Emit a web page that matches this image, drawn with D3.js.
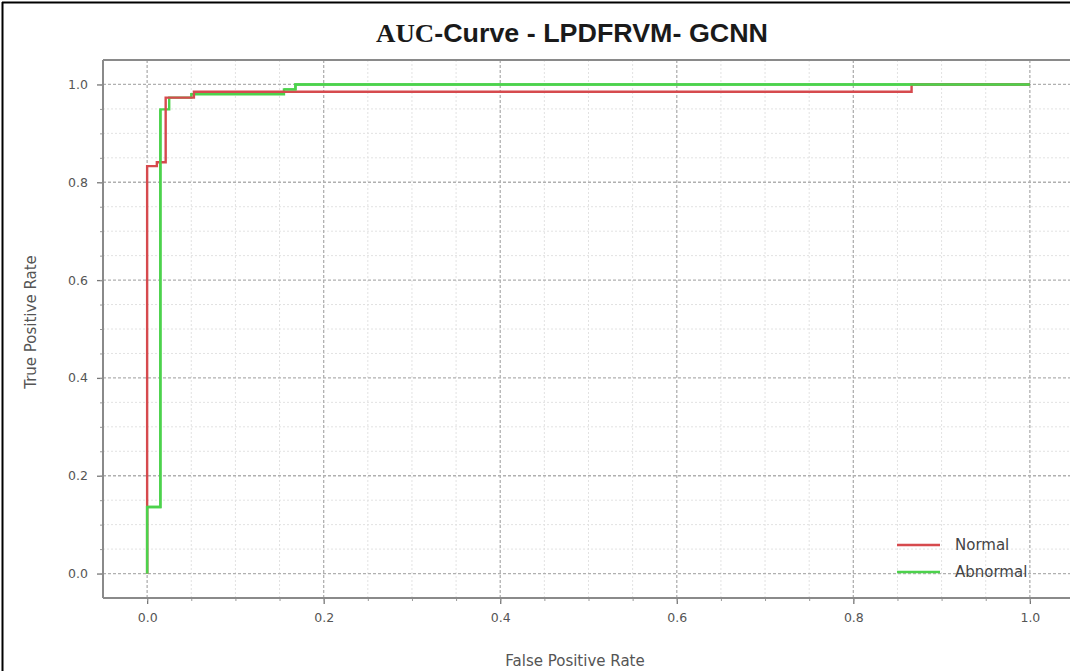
<!DOCTYPE html>
<html><head><meta charset="utf-8">
<script src="https://cdn.jsdelivr.net/npm/d3@7"></script>
<style>body{margin:0;background:#fff}svg{display:block}</style>
</head><body>
<svg id="c" width="1070" height="671"></svg>
<script>
const title = "AUC-Curve - LPDFRVM- GCNN";
const xLabel = "False Positive Rate";
const yLabel = "True Positive Rate";
const seriesNames = ["Normal", "Abnormal"];
const seriesColors = ["#d64a4e", "#4cd24c"];
const normalFPR = [0, 0, 0.011, 0.011, 0.021, 0.021, 0.053, 0.053, 0.866, 0.866, 1.0];
const normalTPR = [0, 0.833, 0.833, 0.841, 0.841, 0.973, 0.973, 0.985, 0.985, 1.0, 1.0];
const abnormalFPR = [0, 0, 0.015, 0.015, 0.025, 0.025, 0.05, 0.05, 0.155, 0.155, 0.168, 0.168, 1.0];
const abnormalTPR = [0, 0.136, 0.136, 0.949, 0.949, 0.973, 0.973, 0.98, 0.98, 0.99, 0.99, 1.0, 1.0];
const majorTicks = [0, 0.2, 0.4, 0.6, 0.8, 1.0];
const tickLabels = ["0.0", "0.2", "0.4", "0.6", "0.8", "1.0"];
const minorTicks = d3.range(-0.05, 1.0501, 0.05).map(v => +v.toFixed(2));

const svg = d3.select("#c");
const L = 103, T = 60, R = 1074, B = 598;
const x = d3.scaleLinear().domain([-0.05, 1.05]).range([L, R]);
const y = d3.scaleLinear().domain([-0.05, 1.05]).range([B, T]);

// outer frame (left and top)
svg.append("line").attr("x1",2.5).attr("x2",2.5).attr("y1",2).attr("y2",671).attr("stroke","#000").attr("stroke-width",2);
svg.append("line").attr("x1",2).attr("x2",1070).attr("y1",2.5).attr("y2",2.5).attr("stroke","#000").attr("stroke-width",2);

const g = svg.append("g");
// minor grid
minorTicks.filter(v => v > -0.05 && v < 1.05 && !majorTicks.some(m => Math.abs(m - v) < 1e-6)).forEach(v => {
  g.append("line").attr("x1", x(v)).attr("x2", x(v)).attr("y1", T).attr("y2", B)
    .attr("stroke", "#e2e2e2").attr("stroke-width", 1).attr("stroke-dasharray", "2,2");
  g.append("line").attr("y1", y(v)).attr("y2", y(v)).attr("x1", L).attr("x2", R)
    .attr("stroke", "#e2e2e2").attr("stroke-width", 1).attr("stroke-dasharray", "2,2");
});
// major grid
majorTicks.forEach(v => {
  g.append("line").attr("x1", x(v)).attr("x2", x(v)).attr("y1", T).attr("y2", B)
    .attr("stroke", "#b0b0b0").attr("stroke-width", 1.3).attr("stroke-dasharray", "3,2");
  g.append("line").attr("y1", y(v)).attr("y2", y(v)).attr("x1", L).attr("x2", R)
    .attr("stroke", "#b0b0b0").attr("stroke-width", 1.3).attr("stroke-dasharray", "3,2");
});

// axes
const xAxis = d3.axisBottom(x).tickValues(majorTicks).tickFormat((d, i) => tickLabels[i]).tickSize(6).tickPadding(9);
const yAxis = d3.axisLeft(y).tickValues(majorTicks).tickFormat((d, i) => tickLabels[i]).tickSize(6).tickPadding(9);
const gx = svg.append("g").attr("transform", `translate(0,${B})`).call(xAxis);
const gy = svg.append("g").attr("transform", `translate(${L},0)`).call(yAxis);
[gx, gy].forEach(a => {
  a.select(".domain").remove();
  a.selectAll(".tick line").attr("stroke", "#777").attr("stroke-width", 1.3);
  a.selectAll(".tick text").attr("fill", "#555").attr("font-family", "DejaVu Sans, sans-serif").attr("font-size", 12.5);
});
// minor ticks
const minorIn = minorTicks.filter(v => v > -0.05 && v < 1.05);
svg.append("g").attr("transform", `translate(0,${B})`).call(d3.axisBottom(x).tickValues(minorIn).tickFormat("").tickSize(3))
  .call(a => { a.select(".domain").remove(); a.selectAll("line").attr("stroke", "#999"); });
svg.append("g").attr("transform", `translate(${L},0)`).call(d3.axisLeft(y).tickValues(minorIn).tickFormat("").tickSize(3))
  .call(a => { a.select(".domain").remove(); a.selectAll("line").attr("stroke", "#999"); });

// spines
svg.append("line").attr("x1", L).attr("x2", L).attr("y1", T).attr("y2", B).attr("stroke", "#8a8a8a").attr("stroke-width", 2);
svg.append("line").attr("x1", L).attr("x2", 1070).attr("y1", B).attr("y2", B).attr("stroke", "#8a8a8a").attr("stroke-width", 2);
svg.append("line").attr("x1", L).attr("x2", 1070).attr("y1", T).attr("y2", T).attr("stroke", "#8a8a8a").attr("stroke-width", 2);

// curves
const line = d3.line().x(d => x(d[0])).y(d => y(d[1]));
const normal = normalFPR.map((v, i) => [v, normalTPR[i]]);
const abnormal = abnormalFPR.map((v, i) => [v, abnormalTPR[i]]);
svg.append("path").datum(abnormal).attr("d", line).attr("fill", "none").attr("stroke", seriesColors[1]).attr("stroke-width", 2.4);
svg.append("path").datum(normal).attr("d", line).attr("fill", "none").attr("stroke", seriesColors[0]).attr("stroke-width", 2.4);
svg.append("path").datum(abnormal.slice(0, 4)).attr("d", line).attr("fill", "none").attr("stroke", seriesColors[1]).attr("stroke-width", 2.4);
svg.append("path").datum(abnormal.slice(9)).attr("d", line).attr("fill", "none").attr("stroke", seriesColors[1]).attr("stroke-width", 2.4);

// legend
const lg = svg.append("g");
seriesNames.forEach((n, i) => {
  const yy = 545 + i * 27;
  lg.append("line").attr("x1", 897).attr("x2", 940).attr("y1", yy).attr("y2", yy).attr("stroke", seriesColors[i]).attr("stroke-width", 2.4);
  lg.append("text").attr("x", 955).attr("y", yy + 5).text(n).attr("fill", "#444")
    .attr("font-family", "DejaVu Sans, sans-serif").attr("font-size", 15);
});

// title
const tt = svg.append("text").attr("x", 572).attr("y", 42).attr("text-anchor", "middle")
  .attr("font-weight", "bold").attr("font-size", 25).attr("fill", "#1a1a1a")
  .attr("textLength", 392).attr("lengthAdjust", "spacingAndGlyphs");
tt.append("tspan").attr("font-family", "Liberation Serif, serif").text(title.slice(0, 3));
tt.append("tspan").attr("font-family", "Liberation Sans, Arial, sans-serif").text(title.slice(3));

// axis labels
svg.append("text").attr("x", 575).attr("y", 666).attr("text-anchor", "middle").text(xLabel)
  .attr("fill", "#555").attr("font-family", "DejaVu Sans, sans-serif").attr("font-size", 15);
svg.append("text").attr("transform", "translate(36,322) rotate(-90)").attr("text-anchor", "middle").text(yLabel)
  .attr("fill", "#555").attr("font-family", "DejaVu Sans, sans-serif").attr("font-size", 15);
</script>
</body></html>
